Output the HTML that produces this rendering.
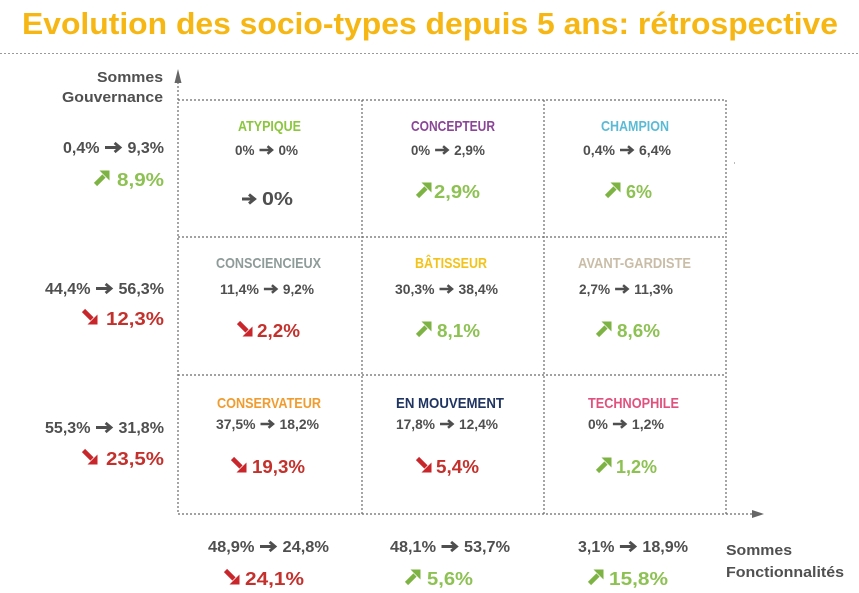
<!DOCTYPE html>
<html>
<head>
<meta charset="utf-8">
<style>
  html, body { margin:0; padding:0; background:#ffffff; }
  svg { display:block; }
  text { font-family: "Liberation Sans", Arial, sans-serif; font-weight: bold; }
</style>
</head>
<body>
<svg width="859" height="593" viewBox="0 0 859 593" xmlns="http://www.w3.org/2000/svg">
  <rect width="859" height="593" fill="#ffffff"/>

  <!-- Title -->
  <text x="22" y="34" font-size="31" fill="#F6B714" textLength="816" lengthAdjust="spacingAndGlyphs">Evolution des socio-types depuis 5 ans: rétrospective</text>
  <line x1="0" y1="53.5" x2="859" y2="53.5" stroke="#9a9a9a" stroke-width="1" stroke-dasharray="2 2"/>

  <!-- Grid -->
  <g stroke="#6a6a6a" stroke-width="1.2" stroke-dasharray="2 2" fill="none">
    <line x1="178" y1="100" x2="726" y2="100"/>
    <line x1="178" y1="237" x2="726" y2="237"/>
    <line x1="178" y1="375" x2="726" y2="375"/>
    <line x1="178" y1="514" x2="753" y2="514"/>
    <line x1="178" y1="82" x2="178" y2="514"/>
    <line x1="362" y1="100" x2="362" y2="514"/>
    <line x1="544" y1="100" x2="544" y2="514"/>
    <line x1="726" y1="100" x2="726" y2="514"/>
  </g>
  <polygon points="174.5,83 181.5,83 178,69" fill="#666"/>
  <polygon points="752,510 752,518 764,514" fill="#666"/>
  <rect x="734" y="162" width="1" height="2" fill="#bbb"/>

  <!-- Axis labels -->
  <text x="163" y="82" font-size="15" fill="#505050" text-anchor="end" textLength="66" lengthAdjust="spacingAndGlyphs">Sommes</text>
  <text x="163" y="102" font-size="15" fill="#505050" text-anchor="end" textLength="101" lengthAdjust="spacingAndGlyphs">Gouvernance</text>
  <text x="726" y="555" font-size="15" fill="#505050" textLength="66" lengthAdjust="spacingAndGlyphs">Sommes</text>
  <text x="726" y="577" font-size="15" fill="#505050" textLength="118" lengthAdjust="spacingAndGlyphs">Fonctionnalités</text>

  <!-- Cell names -->
  <g font-size="15">
    <text x="238" y="131" fill="#8cc63e" textLength="63" lengthAdjust="spacingAndGlyphs">ATYPIQUE</text>
    <text x="411" y="131" fill="#8a4597" textLength="84" lengthAdjust="spacingAndGlyphs">CONCEPTEUR</text>
    <text x="601" y="131" fill="#5bbad5" textLength="68" lengthAdjust="spacingAndGlyphs">CHAMPION</text>
    <text x="216" y="268" fill="#8e9b99" textLength="105" lengthAdjust="spacingAndGlyphs">CONSCIENCIEUX</text>
    <text x="415" y="268" fill="#f3c31a" textLength="72" lengthAdjust="spacingAndGlyphs">BÂTISSEUR</text>
    <text x="578" y="268" fill="#c9bda7" textLength="113" lengthAdjust="spacingAndGlyphs">AVANT-GARDISTE</text>
    <text x="217" y="408" fill="#f09c2e" textLength="104" lengthAdjust="spacingAndGlyphs">CONSERVATEUR</text>
    <text x="396" y="408" fill="#1f3461" textLength="108" lengthAdjust="spacingAndGlyphs">EN MOUVEMENT</text>
    <text x="588" y="408" fill="#e0517f" textLength="91" lengthAdjust="spacingAndGlyphs">TECHNOPHILE</text>
  </g>

  <!-- Cell subtexts -->
  <g font-size="14" fill="#4f4f4f">
    <text x="235" y="155" textLength="19.5" lengthAdjust="spacingAndGlyphs">0%</text>
    <text x="278.5" y="155" textLength="19.5" lengthAdjust="spacingAndGlyphs">0%</text>
    <text x="411" y="155" textLength="19.1" lengthAdjust="spacingAndGlyphs">0%</text>
    <text x="454.1" y="155" textLength="30.9" lengthAdjust="spacingAndGlyphs">2,9%</text>
    <text x="583" y="155" textLength="32" lengthAdjust="spacingAndGlyphs">0,4%</text>
    <text x="639" y="155" textLength="32" lengthAdjust="spacingAndGlyphs">6,4%</text>

    <text x="220" y="294" textLength="38.9" lengthAdjust="spacingAndGlyphs">11,4%</text>
    <text x="282.9" y="294" textLength="31.1" lengthAdjust="spacingAndGlyphs">9,2%</text>
    <text x="395" y="294" textLength="39.5" lengthAdjust="spacingAndGlyphs">30,3%</text>
    <text x="458.5" y="294" textLength="39.5" lengthAdjust="spacingAndGlyphs">38,4%</text>
    <text x="579" y="294" textLength="31.1" lengthAdjust="spacingAndGlyphs">2,7%</text>
    <text x="634.1" y="294" textLength="38.9" lengthAdjust="spacingAndGlyphs">11,3%</text>

    <text x="216" y="429" textLength="39.5" lengthAdjust="spacingAndGlyphs">37,5%</text>
    <text x="279.5" y="429" textLength="39.5" lengthAdjust="spacingAndGlyphs">18,2%</text>
    <text x="396" y="429" textLength="39" lengthAdjust="spacingAndGlyphs">17,8%</text>
    <text x="459" y="429" textLength="39" lengthAdjust="spacingAndGlyphs">12,4%</text>
    <text x="588" y="429" textLength="19.9" lengthAdjust="spacingAndGlyphs">0%</text>
    <text x="631.9" y="429" textLength="32.1" lengthAdjust="spacingAndGlyphs">1,2%</text>
  </g>
  <!-- small arrows in cells -->
  <g fill="none" stroke="#4f4f4f" stroke-width="2.5" stroke-linejoin="miter">
    <path transform="translate(259.5,145)" d="M0 5H11.5M8 1.2L12.5 5L8 8.8"/>
    <path transform="translate(435.1,145)" d="M0 5H11.5M8 1.2L12.5 5L8 8.8"/>
    <path transform="translate(620,145)" d="M0 5H11.5M8 1.2L12.5 5L8 8.8"/>
    <path transform="translate(263.9,284)" d="M0 5H11.5M8 1.2L12.5 5L8 8.8"/>
    <path transform="translate(439.5,284)" d="M0 5H11.5M8 1.2L12.5 5L8 8.8"/>
    <path transform="translate(615.1,284)" d="M0 5H11.5M8 1.2L12.5 5L8 8.8"/>
    <path transform="translate(260.5,419)" d="M0 5H11.5M8 1.2L12.5 5L8 8.8"/>
    <path transform="translate(440,419)" d="M0 5H11.5M8 1.2L12.5 5L8 8.8"/>
    <path transform="translate(612.9,419)" d="M0 5H11.5M8 1.2L12.5 5L8 8.8"/>
  </g>

  <!-- Left column & bottom subtexts -->
  <g font-size="15.5" fill="#4f4f4f">
    <text x="63" y="153" textLength="36.5" lengthAdjust="spacingAndGlyphs">0,4%</text>
    <text x="127.5" y="153" textLength="36.5" lengthAdjust="spacingAndGlyphs">9,3%</text>
    <text x="45" y="294" textLength="45.5" lengthAdjust="spacingAndGlyphs">44,4%</text>
    <text x="118.5" y="294" textLength="45.5" lengthAdjust="spacingAndGlyphs">56,3%</text>
    <text x="45" y="433" textLength="45.5" lengthAdjust="spacingAndGlyphs">55,3%</text>
    <text x="118.5" y="433" textLength="45.5" lengthAdjust="spacingAndGlyphs">31,8%</text>

    <text x="208" y="552" textLength="46.5" lengthAdjust="spacingAndGlyphs">48,9%</text>
    <text x="282.5" y="552" textLength="46.5" lengthAdjust="spacingAndGlyphs">24,8%</text>
    <text x="390" y="552" textLength="46" lengthAdjust="spacingAndGlyphs">48,1%</text>
    <text x="464" y="552" textLength="46" lengthAdjust="spacingAndGlyphs">53,7%</text>
    <text x="578" y="552" textLength="36.4" lengthAdjust="spacingAndGlyphs">3,1%</text>
    <text x="642.4" y="552" textLength="45.6" lengthAdjust="spacingAndGlyphs">18,9%</text>
  </g>
  <g fill="none" stroke="#4f4f4f" stroke-width="2.4" stroke-linejoin="miter">
    <path transform="translate(105,141.5) scale(1.2)" d="M0 5H11.5M8 1.2L12.5 5L8 8.8"/>
    <path transform="translate(96,282.5) scale(1.2)" d="M0 5H11.5M8 1.2L12.5 5L8 8.8"/>
    <path transform="translate(96,421.5) scale(1.2)" d="M0 5H11.5M8 1.2L12.5 5L8 8.8"/>
    <path transform="translate(260,540.5) scale(1.2)" d="M0 5H11.5M8 1.2L12.5 5L8 8.8"/>
    <path transform="translate(441.5,540.5) scale(1.2)" d="M0 5H11.5M8 1.2L12.5 5L8 8.8"/>
    <path transform="translate(619.9,540.5) scale(1.2)" d="M0 5H11.5M8 1.2L12.5 5L8 8.8"/>
  </g>

  <!-- Big percentages -->
  <g font-size="18.5">
    <text x="117" y="186" fill="#8dc152" textLength="47" lengthAdjust="spacingAndGlyphs">8,9%</text>
    <text x="106" y="325" fill="#c4302b" textLength="58" lengthAdjust="spacingAndGlyphs">12,3%</text>
    <text x="106" y="465" fill="#c4302b" textLength="58" lengthAdjust="spacingAndGlyphs">23,5%</text>
    <text x="262" y="205" fill="#4f4f4f" textLength="31" lengthAdjust="spacingAndGlyphs">0%</text>
    <text x="434" y="198" fill="#8dc152" textLength="46" lengthAdjust="spacingAndGlyphs">2,9%</text>
    <text x="626" y="198" fill="#8dc152" textLength="26" lengthAdjust="spacingAndGlyphs">6%</text>
    <text x="257" y="337" fill="#c4302b" textLength="43" lengthAdjust="spacingAndGlyphs">2,2%</text>
    <text x="437" y="337" fill="#8dc152" textLength="43" lengthAdjust="spacingAndGlyphs">8,1%</text>
    <text x="617" y="337" fill="#8dc152" textLength="43" lengthAdjust="spacingAndGlyphs">8,6%</text>
    <text x="252" y="473" fill="#c4302b" textLength="53" lengthAdjust="spacingAndGlyphs">19,3%</text>
    <text x="436" y="473" fill="#c4302b" textLength="43" lengthAdjust="spacingAndGlyphs">5,4%</text>
    <text x="616" y="473" fill="#8dc152" textLength="41" lengthAdjust="spacingAndGlyphs">1,2%</text>
    <text x="245" y="585" fill="#c4302b" textLength="59" lengthAdjust="spacingAndGlyphs">24,1%</text>
    <text x="427" y="585" fill="#8dc152" textLength="46" lengthAdjust="spacingAndGlyphs">5,6%</text>
    <text x="609" y="585" fill="#8dc152" textLength="59" lengthAdjust="spacingAndGlyphs">15,8%</text>
  </g>

  <!-- big grey right arrow (ATYPIQUE) -->
  <path transform="translate(242,193)" d="M0 6H11M7 1.5L12.5 6L7 10.5" fill="none" stroke="#4f4f4f" stroke-width="3"/>

  <!-- Up (green) arrows -->
  <g fill="#7cb342" stroke="#7cb342">
    <g transform="translate(94,170)"><line x1="1.5" y1="14.5" x2="10" y2="6" stroke-width="4.5"/><polygon points="5.5,0.5 15.5,0.5 15.5,10.5" stroke="none"/></g>
    <g transform="translate(416,182)"><line x1="1.5" y1="14.5" x2="10" y2="6" stroke-width="4.5"/><polygon points="5.5,0.5 15.5,0.5 15.5,10.5" stroke="none"/></g>
    <g transform="translate(605,182)"><line x1="1.5" y1="14.5" x2="10" y2="6" stroke-width="4.5"/><polygon points="5.5,0.5 15.5,0.5 15.5,10.5" stroke="none"/></g>
    <g transform="translate(416,321)"><line x1="1.5" y1="14.5" x2="10" y2="6" stroke-width="4.5"/><polygon points="5.5,0.5 15.5,0.5 15.5,10.5" stroke="none"/></g>
    <g transform="translate(596,321)"><line x1="1.5" y1="14.5" x2="10" y2="6" stroke-width="4.5"/><polygon points="5.5,0.5 15.5,0.5 15.5,10.5" stroke="none"/></g>
    <g transform="translate(596,457)"><line x1="1.5" y1="14.5" x2="10" y2="6" stroke-width="4.5"/><polygon points="5.5,0.5 15.5,0.5 15.5,10.5" stroke="none"/></g>
    <g transform="translate(405,569)"><line x1="1.5" y1="14.5" x2="10" y2="6" stroke-width="4.5"/><polygon points="5.5,0.5 15.5,0.5 15.5,10.5" stroke="none"/></g>
    <g transform="translate(588,569)"><line x1="1.5" y1="14.5" x2="10" y2="6" stroke-width="4.5"/><polygon points="5.5,0.5 15.5,0.5 15.5,10.5" stroke="none"/></g>
  </g>

  <!-- Down (red) arrows -->
  <g fill="#c8262a" stroke="#c8262a">
    <g transform="translate(82,309)"><line x1="1.5" y1="1.5" x2="10" y2="10" stroke-width="4.5"/><polygon points="5.5,15.5 15.5,15.5 15.5,5.5" stroke="none"/></g>
    <g transform="translate(82,449)"><line x1="1.5" y1="1.5" x2="10" y2="10" stroke-width="4.5"/><polygon points="5.5,15.5 15.5,15.5 15.5,5.5" stroke="none"/></g>
    <g transform="translate(237,321)"><line x1="1.5" y1="1.5" x2="10" y2="10" stroke-width="4.5"/><polygon points="5.5,15.5 15.5,15.5 15.5,5.5" stroke="none"/></g>
    <g transform="translate(231,457)"><line x1="1.5" y1="1.5" x2="10" y2="10" stroke-width="4.5"/><polygon points="5.5,15.5 15.5,15.5 15.5,5.5" stroke="none"/></g>
    <g transform="translate(416,457)"><line x1="1.5" y1="1.5" x2="10" y2="10" stroke-width="4.5"/><polygon points="5.5,15.5 15.5,15.5 15.5,5.5" stroke="none"/></g>
    <g transform="translate(224,569)"><line x1="1.5" y1="1.5" x2="10" y2="10" stroke-width="4.5"/><polygon points="5.5,15.5 15.5,15.5 15.5,5.5" stroke="none"/></g>
  </g>
</svg>
</body>
</html>
